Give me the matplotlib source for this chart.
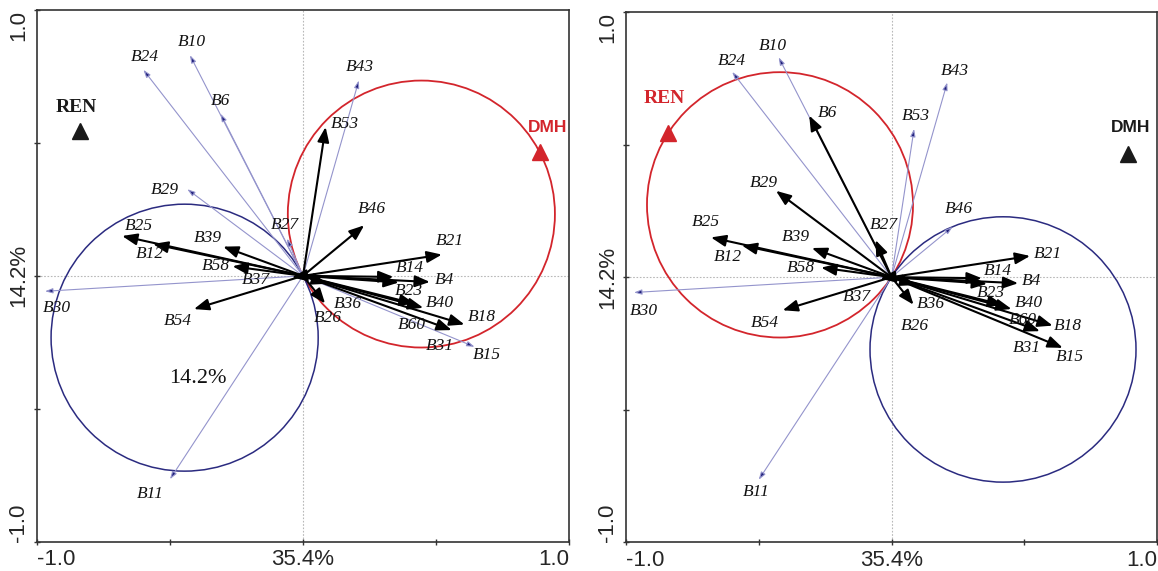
import matplotlib
matplotlib.use("Agg")
import matplotlib.pyplot as plt
from matplotlib.patches import Circle
import numpy as np

# species scores (axis 1, axis 2)
species = ['B10', 'B24', 'B6', 'B43', 'B53', 'B29', 'B27', 'B46', 'B21', 'B25',
           'B12', 'B39', 'B58', 'B37', 'B30', 'B54', 'B11', 'B14', 'B4', 'B23',
           'B40', 'B18', 'B60', 'B31', 'B15', 'B36', 'B26']
sp_x = [-0.425, -0.60, -0.31, 0.21, 0.085, -0.435, -0.06, 0.23, 0.522, -0.68,
        -0.564, -0.30, -0.265, -0.042, -0.97, -0.41, -0.50, 0.34, 0.477, 0.36,
        0.452, 0.607, 0.42, 0.559, 0.645, 0.09, 0.083]
sp_y = [0.83, 0.775, 0.61, 0.735, 0.56, 0.326, 0.14, 0.19, 0.08, 0.15,
        0.12, 0.11, 0.036, -0.006, -0.058, -0.125, -0.765, -0.004, -0.023, -0.025,
        -0.12, -0.183, -0.105, -0.204, -0.267, -0.03, -0.104]

# environmental variables (nominal, triangles)
env_names = ['REN', 'DMH']
env_x = [-0.84, 0.89]
env_y = [0.546, 0.465]

# species drawn as thin lines in each panel
thin_left = ['B10', 'B24', 'B6', 'B29', 'B27', 'B43', 'B30', 'B11', 'B15']
thin_right = ['B10', 'B24', 'B43', 'B53', 'B46', 'B30', 'B11']

# label offsets in pixels (dx, dy with y downwards)
off_left = {'B10': (2, -13), 'B24': (2, -13), 'B6': (0, -13), 'B43': (1, -13),
            'B53': (19, -3), 'B29': (-22, 1), 'B27': (-2, -14), 'B46': (8, -16),
            'B21': (8, -14), 'B25': (17, -10), 'B12': (-3, 10), 'B39': (-15, -9),
            'B58': (-17, 0), 'B37': (-36, 3), 'B30': (12, 17), 'B54': (-16, 12),
            'B11': (-20, 15), 'B14': (16, -9), 'B4': (15, -2), 'B23': (10, 9),
            'B40': (17, -5), 'B18': (17, -8), 'B60': (-3, 21), 'B31': (-12, 16),
            'B15': (12, 8), 'B36': (21, 20), 'B26': (3, 15)}
off_right = {'B10': (-6, -11), 'B24': (0, -11), 'B6': (18, -3), 'B43': (8, -11),
             'B53': (2, -13), 'B29': (-12, -8), 'B27': (8, -15), 'B46': (6, -18),
             'B21': (18, -2), 'B25': (-5, -15), 'B12': (-14, 12), 'B39': (-16, -11),
             'B58': (-20, 0), 'B37': (-23, 18), 'B30': (10, 18), 'B54': (-18, 13),
             'B11': (-2, 12), 'B14': (16, -7), 'B4': (13, -2), 'B23': (4, 9),
             'B40': (17, -6), 'B18': (15, 0), 'B60': (20, 15), 'B31': (-13, 17),
             'B15': (7, 9), 'B36': (16, 19), 'B26': (1, 21)}

RED = '#d3252c'
NAVY = '#2b2b80'
THIN = '#9494cc'

fig = plt.figure(figsize=(11.58, 5.71), dpi=100)
ax_l = fig.add_axes([37/1158, 29.3/571, 532/1158, 531.7/571])
ax_r = fig.add_axes([626/1158, 29/571, 531/1158, 529.7/571])


def setup(ax):
    ax.set_xlim(-1, 1)
    ax.set_ylim(-1, 1)
    ax.axhline(0, color='#b8b8b8', lw=0.8, ls=(0, (1.5, 1.5)), zorder=0)
    ax.axvline(0, color='#b8b8b8', lw=0.8, ls=(0, (1.5, 1.5)), zorder=0)
    for s in ax.spines.values():
        s.set_color('#333333')
        s.set_linewidth(1.2)
    ax.set_xticks([-1, -0.5, 0, 0.5, 1])
    ax.set_xticklabels(['-1.0', '', '35.4%', '', '1.0'])
    ax.set_yticks([-1, -0.5, 0, 0.5, 1])
    ax.set_yticklabels(['-1.0', '', '14.2%', '', '1.0'], rotation=90)
    ax.tick_params(direction='inout', length=5, width=1, color='#333333',
                   labelsize=16, labelcolor='#262626', pad=3)
    for t in ax.get_xticklabels():
        t.set_family('Liberation Sans')
    for t in ax.get_yticklabels():
        t.set_family('Liberation Sans')
    xl = ax.get_xticklabels()
    xl[0].set_ha('left')
    xl[4].set_ha('right')
    yl = ax.get_yticklabels()
    yl[0].set_va('bottom')
    yl[2].set_va('center')
    yl[4].set_va('top')


def arrows(ax, thin, offs):
    for name, x, y in zip(species, sp_x, sp_y):
        if name in thin:
            ax.annotate('', xy=(x, y), xytext=(0, 0),
                        arrowprops=dict(arrowstyle='-|>,head_length=0.45,head_width=0.15',
                                        lw=0.8, ec=THIN, fc='#1f1f7a',
                                        shrinkA=0, shrinkB=0), zorder=2)
        else:
            ax.annotate('', xy=(x, y), xytext=(0, 0),
                        arrowprops=dict(arrowstyle='-|>,head_length=0.9,head_width=0.35',
                                        lw=1.5, color='black',
                                        shrinkA=0, shrinkB=0), zorder=3)
        dx, dy = offs[name]
        ax.annotate(name, xy=(x, y), xytext=(dx * 0.72, -dy * 0.72),
                    textcoords='offset points', ha='center', va='center',
                    fontsize=12.5, style='italic', family='Liberation Serif',
                    color='#111111', zorder=4)


def circles(ax, ex, ey, red_sign):
    cx, cy = ex / 2, ey / 2
    r = np.hypot(ex, ey) / 2
    ax.add_patch(Circle((red_sign * cx, red_sign * cy), r, fill=False,
                        ec=RED, lw=1.3, zorder=1))
    ax.add_patch(Circle((-red_sign * cx, -red_sign * cy), r, fill=False,
                        ec=NAVY, lw=1.1, zorder=1))


def env(ax, colors, lab_offs):
    fams = ['Liberation Serif', 'Liberation Sans']
    for i, name in enumerate(env_names):
        ax.plot(env_x[i], env_y[i], marker='^', ms=11, color=colors[i],
                ls='none', zorder=5)
        dx, dy = lab_offs[i]
        ax.annotate(name, xy=(env_x[i], env_y[i]), xytext=(dx * 0.72, -dy * 0.72),
                    textcoords='offset points', ha='center', va='center',
                    fontsize=14 if i == 0 else 12.5, fontweight='bold',
                    family=fams[i], color=colors[i], zorder=5)


for ax in (ax_l, ax_r):
    setup(ax)

# left panel: DMH circles
circles(ax_l, env_x[1], env_y[1], 1)
arrows(ax_l, thin_left, off_left)
env(ax_l, ['#1a1a1a', RED], [(-3, -23), (8, -25)])
ax_l.text(-0.395, -0.388, '14.2%', ha='center', va='center', fontsize=16,
          family='Liberation Serif', color='#111111')

# right panel: REN circles
circles(ax_r, env_x[0], env_y[0], 1)
arrows(ax_r, thin_right, off_right)
env(ax_r, [RED, '#1a1a1a'], [(-4, -34), (3, -26)])

fig.savefig('out.png', dpi=100)
